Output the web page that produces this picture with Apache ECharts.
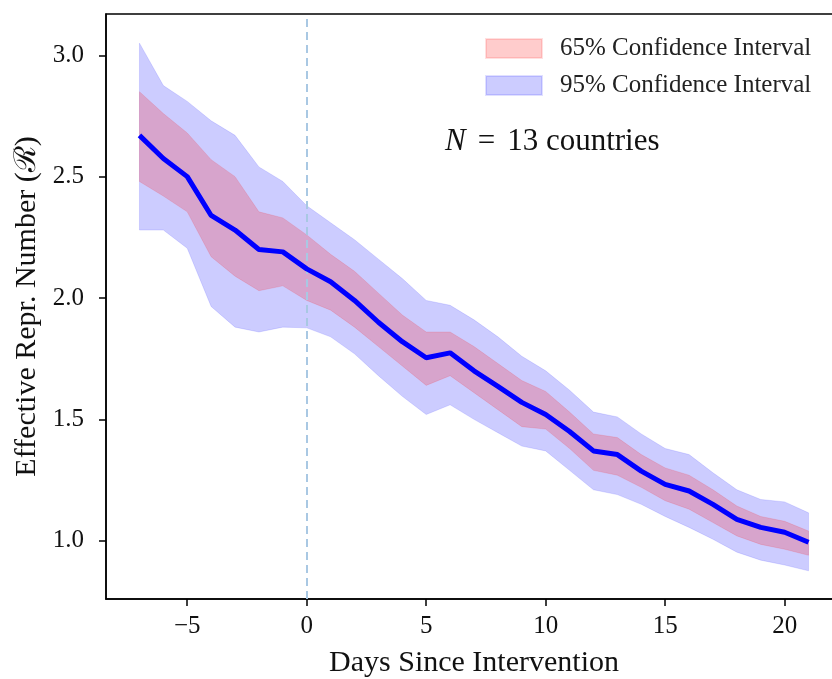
<!DOCTYPE html>
<html lang="en">
<head>
  <meta charset="UTF-8" />
  <title>Effective Repr. Number</title>
  <script src="https://cdn.jsdelivr.net/npm/echarts@6/dist/echarts.min.js"></script>
  <style>
    html, body { margin: 0; padding: 0; background: #fff; }
    #chart { width: 832px; height: 679px; }
  </style>
</head>
<body>
  <div id="chart"></div>
  <script>
    // days relative to intervention
    var days = [-7, -6, -5, -4, -3, -2, -1, 0, 1, 2, 3, 4, 5, 6, 7, 8, 9, 10, 11, 12, 13, 14, 15, 16, 17, 18, 19, 20, 21];
    var median = [2.67, 2.575, 2.50, 2.34, 2.28, 2.20, 2.19, 2.12, 2.067, 1.99, 1.90, 1.82, 1.754, 1.774, 1.70, 1.636, 1.57, 1.52, 1.45, 1.37, 1.355, 1.287, 1.232, 1.205, 1.15, 1.088, 1.055, 1.035, 0.994];
    var upper95 = [3.05, 2.875, 2.81, 2.73, 2.67, 2.54, 2.48, 2.38, 2.31, 2.24, 2.16, 2.08, 1.99, 1.97, 1.91, 1.84, 1.76, 1.70, 1.62, 1.53, 1.51, 1.44, 1.38, 1.355, 1.28, 1.21, 1.17, 1.16, 1.115];
    var lower95 = [2.28, 2.28, 2.205, 1.965, 1.88, 1.86, 1.88, 1.877, 1.84, 1.77, 1.68, 1.595, 1.52, 1.56, 1.50, 1.445, 1.39, 1.37, 1.29, 1.21, 1.19, 1.15, 1.10, 1.055, 1.006, 0.953, 0.92, 0.90, 0.876];
    var upper65 = [2.85, 2.76, 2.68, 2.57, 2.50, 2.355, 2.33, 2.26, 2.18, 2.11, 2.02, 1.93, 1.86, 1.86, 1.80, 1.73, 1.66, 1.615, 1.53, 1.44, 1.425, 1.355, 1.30, 1.27, 1.21, 1.143, 1.10, 1.08, 1.04];
    var lower65 = [2.48, 2.42, 2.355, 2.17, 2.09, 2.03, 2.05, 1.99, 1.95, 1.88, 1.80, 1.72, 1.64, 1.68, 1.61, 1.54, 1.47, 1.46, 1.38, 1.29, 1.27, 1.22, 1.165, 1.13, 1.075, 1.02, 0.985, 0.965, 0.94];
    var xTicks = [-5, 0, 5, 10, 15, 20];
    var yTicks = [1.0, 1.5, 2.0, 2.5, 3.0];

    var serif = "'Liberation Serif', 'DejaVu Serif', serif";

    // one polygon per band, built through the axis scales
    function bandSeries(name, lo, hi, fill, edge) {
      return {
        name: name,
        type: "custom",
        data: [[days[0], lo[0]]],
        itemStyle: { color: fill, borderColor: edge, borderWidth: 1 },
        renderItem: function(params, api) {
          var pts = [];
          for (var i = 0; i < days.length; i++) pts.push(api.coord([days[i], hi[i]]));
          for (var j = days.length - 1; j >= 0; j--) pts.push(api.coord([days[j], lo[j]]));
          return {
            type: "polygon",
            shape: { points: pts },
            style: { fill: fill, stroke: edge, lineWidth: 1 }
          };
        },
        z: 2
      };
    }

    var chart = echarts.init(document.getElementById("chart"));
    chart.setOption({
      animation: false,
      grid: {
        left: 106, top: 14, width: 736, height: 585,
        outerBoundsMode: "none",
        containLabel: false,
        show: true, borderColor: "#000", borderWidth: 1.5, backgroundColor: "transparent"
      },
      legend: {
        orient: "vertical",
        left: 480, top: 31,
        itemWidth: 56, itemHeight: 19, itemGap: 12,
        icon: "rect",
        textStyle: { fontFamily: serif, fontSize: 25, lineHeight: 19, color: "#222", padding: [0, 0, 0, 13] },
        data: ["65% Confidence Interval", "95% Confidence Interval"]
      },
      xAxis: {
        type: "value",
        min: -8.4, max: 22.4,
        name: "Days Since Intervention",
        nameLocation: "middle",
        nameGap: 49,
        nameTextStyle: { fontFamily: serif, fontSize: 30, color: "#111" },
        axisLine: { show: true, onZero: false, lineStyle: { color: "#000", width: 1.5 } },
        axisTick: { show: true, length: 7, lineStyle: { color: "#000", width: 1.5 }, customValues: xTicks },
        axisLabel: {
          fontFamily: serif, fontSize: 25, color: "#111", margin: 15,
          customValues: xTicks,
          formatter: function(v) { return String(v).replace("-", "\u2212"); }
        },
        splitLine: { show: false }
      },
      yAxis: {
        type: "value",
        min: 0.76, max: 3.17,
        name: "Effective Repr. Number (\u211B)",
        nameLocation: "middle",
        nameGap: 63,
        nameTextStyle: { fontFamily: serif, fontSize: 30, color: "#111" },
        axisLine: { show: true, onZero: false, lineStyle: { color: "#000", width: 1.5 } },
        axisTick: { show: true, length: 7, lineStyle: { color: "#000", width: 1.5 }, customValues: yTicks },
        axisLabel: {
          fontFamily: serif, fontSize: 25, color: "#111", margin: 22,
          customValues: yTicks,
          formatter: function(v) { return v.toFixed(1); }
        },
        splitLine: { show: false }
      },
      graphic: [{
        type: "text",
        left: 445, top: 126,
        style: {
          text: "{n|N}{eq|=}13 countries",
          font: "31px " + serif,
          fill: "#111",
          rich: {
            n: { fontStyle: "italic", fontFamily: serif, fontSize: 31 },
            eq: { fontFamily: serif, fontSize: 31, padding: [0, 12, 0, 12] }
          }
        },
        z: 10
      }],
      series: [
        bandSeries("95% Confidence Interval", lower95, upper95, "rgba(0,0,255,0.2)", "rgba(0,0,255,0.12)"),
        bandSeries("65% Confidence Interval", lower65, upper65, "rgba(255,0,0,0.2)", "rgba(255,0,0,0.12)"),
        {
          name: "median",
          type: "line",
          data: days.map(function(d, i) { return [d, median[i]]; }),
          showSymbol: false,
          lineStyle: { color: "#0000ff", width: 5 },
          z: 5,
          markLine: {
            silent: true,
            symbol: "none",
            label: { show: false },
            lineStyle: { color: "#a9c8e3", type: [8, 5], width: 2 },
            data: [{ xAxis: 0 }]
          }
        }
      ]
    });
  </script>
</body>
</html>
